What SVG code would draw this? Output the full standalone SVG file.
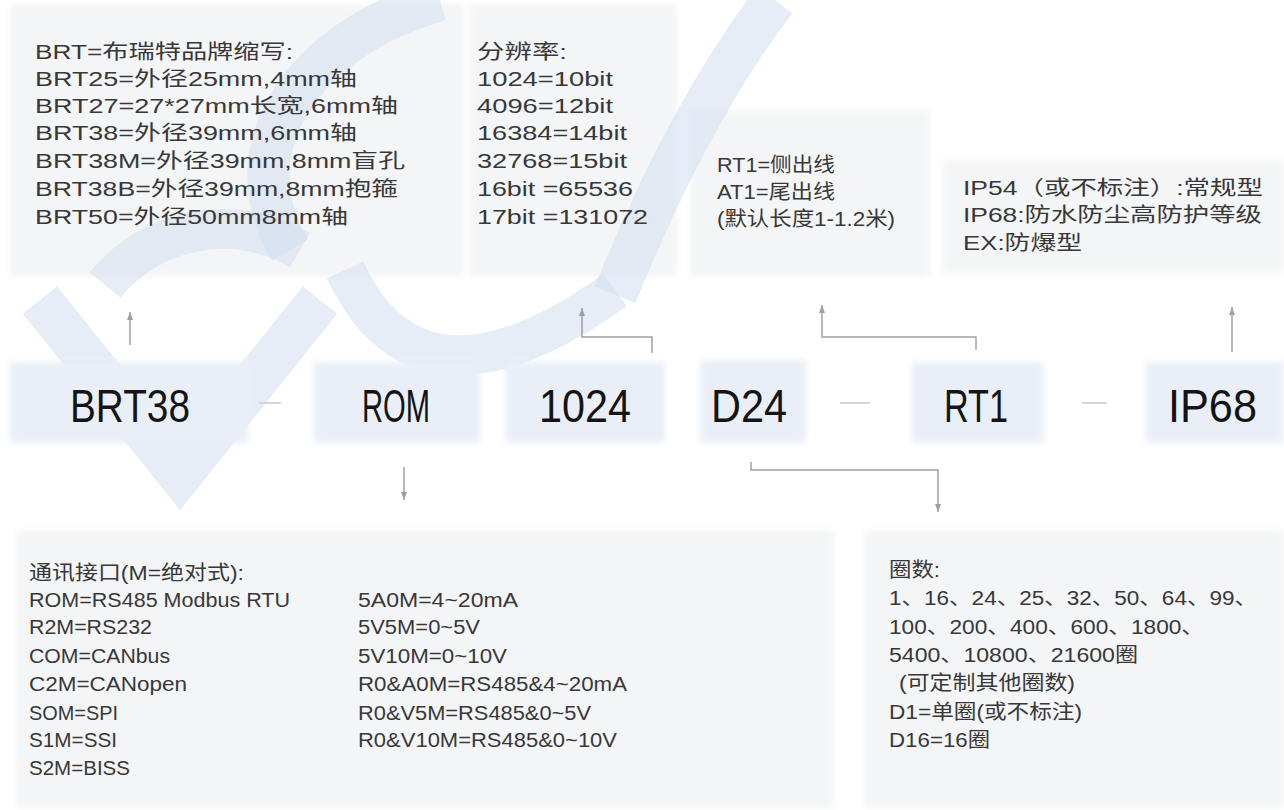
<svg xmlns="http://www.w3.org/2000/svg" width="1284" height="810" viewBox="0 0 1284 810">
<defs>
<style>
.panel{fill:#f4f5f6}
.node{fill:#eaeff7}
.t{font-family:"Liberation Sans","Noto Sans CJK SC",sans-serif;font-size:20px;fill:#383838}
.code{font-family:"Liberation Sans",sans-serif;font-size:46px;fill:#141414}
.wm{fill:none;stroke:#d3dff1;stroke-opacity:0.55;stroke-linecap:butt}
.conn{fill:none;stroke:#a0a0a0;stroke-width:1.5}
.dash{stroke:#d6d6d6;stroke-width:2}
</style>
<filter id="soft" x="-5%" y="-5%" width="110%" height="110%"><feGaussianBlur stdDeviation="3"/></filter>
<marker id="ah" viewBox="0 0 8 6" refX="8" refY="3" markerWidth="8" markerHeight="6" orient="auto" markerUnits="userSpaceOnUse">
<path d="M0 0 L8 3 L0 6 Z" fill="#a0a0a0"/>
</marker>
</defs>
<rect width="1284" height="810" fill="#ffffff"/>
<g id="panels" filter="url(#soft)">
<rect class="panel" x="10" y="4" width="453" height="273"/>
<rect class="panel" x="469" y="4" width="208" height="273"/>
<rect class="panel" x="690" y="110" width="240" height="167"/>
<rect class="panel" x="942" y="160" width="342" height="113"/>
<rect class="panel" x="16" y="530" width="818" height="278"/>
<rect class="panel" x="864" y="530" width="420" height="278"/>
</g>
<g id="watermark">
<path class="wm" stroke-width="44" d="M40 300 L180 475 L320 300"/>
<path class="wm" stroke-width="40" d="M105 285 C150 230 230 210 300 250"/>
<path class="wm" stroke-width="42" d="M290 250 C230 150 300 40 440 0"/>
<path class="wm" stroke-width="40" d="M345 270 Q420 430 615 290"/>
<path class="wm" stroke-width="44" d="M775 0 Q690 110 615 295"/>
</g>
<g id="node-boxes" filter="url(#soft)">
<rect class="node" x="10" y="362" width="238" height="81"/>
<rect class="node" x="314" y="362" width="166" height="81"/>
<rect class="node" x="505" y="362" width="160" height="81"/>
<rect class="node" x="700" y="360" width="106" height="83"/>
<rect class="node" x="912" y="362" width="132" height="81"/>
<rect class="node" x="1145" y="362" width="139" height="81"/>
</g>
<g id="node-brt38"><text class="code" x="70" y="422" textLength="120" lengthAdjust="spacingAndGlyphs">BRT38</text></g>
<g id="node-rom"><text class="code" x="362" y="422" textLength="68" lengthAdjust="spacingAndGlyphs">ROM</text></g>
<g id="node-1024"><text class="code" x="539" y="422" textLength="92" lengthAdjust="spacingAndGlyphs">1024</text></g>
<g id="node-d24"><text class="code" x="711" y="422" textLength="76" lengthAdjust="spacingAndGlyphs">D24</text></g>
<g id="node-rt1"><text class="code" x="944" y="422" textLength="64" lengthAdjust="spacingAndGlyphs">RT1</text></g>
<g id="node-ip68"><text class="code" x="1168" y="422" textLength="89" lengthAdjust="spacingAndGlyphs">IP68</text></g>
<g id="connectors">
<line class="dash" x1="259" y1="403" x2="281" y2="403"/>
<line class="dash" x1="840" y1="403" x2="870" y2="403"/>
<line class="dash" x1="1082" y1="403" x2="1107" y2="403"/>
<polyline class="conn" points="130,345 130,312" marker-end="url(#ah)"/>
<polyline class="conn" points="652,353 652,337 582,337 582,308" marker-end="url(#ah)"/>
<polyline class="conn" points="976,350 976,337 822,337 822,305" marker-end="url(#ah)"/>
<polyline class="conn" points="1232,352 1232,307" marker-end="url(#ah)"/>
<polyline class="conn" points="404,467 404,500" marker-end="url(#ah)"/>
<polyline class="conn" points="751,462 751,470 938,470 938,512" marker-end="url(#ah)"/>
</g>
<g id="note-brand">
<text class="t" x="35" y="59" textLength="258" lengthAdjust="spacingAndGlyphs">BRT=布瑞特品牌缩写:</text>
<text class="t" x="35" y="86" textLength="322" lengthAdjust="spacingAndGlyphs">BRT25=外径25mm,4mm轴</text>
<text class="t" x="35" y="113" textLength="363" lengthAdjust="spacingAndGlyphs">BRT27=27*27mm长宽,6mm轴</text>
<text class="t" x="35" y="140" textLength="322" lengthAdjust="spacingAndGlyphs">BRT38=外径39mm,6mm轴</text>
<text class="t" x="35" y="168" textLength="370" lengthAdjust="spacingAndGlyphs">BRT38M=外径39mm,8mm盲孔</text>
<text class="t" x="35" y="196" textLength="363" lengthAdjust="spacingAndGlyphs">BRT38B=外径39mm,8mm抱箍</text>
<text class="t" x="35" y="224" textLength="313" lengthAdjust="spacingAndGlyphs">BRT50=外径50mm8mm轴</text>
</g>
<g id="note-resolution">
<text class="t" x="477" y="59" textLength="90" lengthAdjust="spacingAndGlyphs">分辨率:</text>
<text class="t" x="477" y="86" textLength="136" lengthAdjust="spacingAndGlyphs">1024=10bit</text>
<text class="t" x="477" y="113" textLength="136" lengthAdjust="spacingAndGlyphs">4096=12bit</text>
<text class="t" x="477" y="140" textLength="150" lengthAdjust="spacingAndGlyphs">16384=14bit</text>
<text class="t" x="477" y="168" textLength="150" lengthAdjust="spacingAndGlyphs">32768=15bit</text>
<text class="t" x="477" y="196" textLength="156" lengthAdjust="spacingAndGlyphs">16bit =65536</text>
<text class="t" x="477" y="224" textLength="171" lengthAdjust="spacingAndGlyphs">17bit =131072</text>
</g>
<g id="note-cable">
<text class="t" x="717" y="172" textLength="118" lengthAdjust="spacingAndGlyphs">RT1=侧出线</text>
<text class="t" x="717" y="199" textLength="118" lengthAdjust="spacingAndGlyphs">AT1=尾出线</text>
<text class="t" x="717" y="226" textLength="178" lengthAdjust="spacingAndGlyphs">(默认长度1-1.2米)</text>
</g>
<g id="note-protection">
<text class="t" x="963" y="195" textLength="300" lengthAdjust="spacingAndGlyphs">IP54（或不标注）:常规型</text>
<text class="t" x="963" y="222" textLength="299" lengthAdjust="spacingAndGlyphs">IP68:防水防尘高防护等级</text>
<text class="t" x="963" y="250" textLength="119" lengthAdjust="spacingAndGlyphs">EX:防爆型</text>
</g>
<g id="note-interface">
<text class="t" x="29" y="580" textLength="215" lengthAdjust="spacingAndGlyphs">通讯接口(M=绝对式):</text>
<text class="t" x="29" y="607" textLength="261" lengthAdjust="spacingAndGlyphs">ROM=RS485 Modbus RTU</text>
<text class="t" x="29" y="634" textLength="123" lengthAdjust="spacingAndGlyphs">R2M=RS232</text>
<text class="t" x="29" y="663" textLength="141" lengthAdjust="spacingAndGlyphs">COM=CANbus</text>
<text class="t" x="29" y="691" textLength="158" lengthAdjust="spacingAndGlyphs">C2M=CANopen</text>
<text class="t" x="29" y="720" textLength="89" lengthAdjust="spacingAndGlyphs">SOM=SPI</text>
<text class="t" x="29" y="747" textLength="88" lengthAdjust="spacingAndGlyphs">S1M=SSI</text>
<text class="t" x="29" y="775" textLength="101" lengthAdjust="spacingAndGlyphs">S2M=BISS</text>
<text class="t" x="358" y="607" textLength="160" lengthAdjust="spacingAndGlyphs">5A0M=4~20mA</text>
<text class="t" x="358" y="634" textLength="122" lengthAdjust="spacingAndGlyphs">5V5M=0~5V</text>
<text class="t" x="358" y="663" textLength="149" lengthAdjust="spacingAndGlyphs">5V10M=0~10V</text>
<text class="t" x="358" y="691" textLength="269" lengthAdjust="spacingAndGlyphs">R0&amp;A0M=RS485&amp;4~20mA</text>
<text class="t" x="358" y="720" textLength="233" lengthAdjust="spacingAndGlyphs">R0&amp;V5M=RS485&amp;0~5V</text>
<text class="t" x="358" y="747" textLength="259" lengthAdjust="spacingAndGlyphs">R0&amp;V10M=RS485&amp;0~10V</text>
</g>
<g id="note-turns">
<text class="t" x="889" y="577" textLength="51" lengthAdjust="spacingAndGlyphs">圈数:</text>
<text class="t" x="889" y="605" textLength="368" lengthAdjust="spacingAndGlyphs">1、16、24、25、32、50、64、99、</text>
<text class="t" x="889" y="634" textLength="315" lengthAdjust="spacingAndGlyphs">100、200、400、600、1800、</text>
<text class="t" x="889" y="662" textLength="249" lengthAdjust="spacingAndGlyphs">5400、10800、21600圈</text>
<text class="t" x="899" y="690" textLength="176" lengthAdjust="spacingAndGlyphs">(可定制其他圈数)</text>
<text class="t" x="889" y="719" textLength="193" lengthAdjust="spacingAndGlyphs">D1=单圈(或不标注)</text>
<text class="t" x="889" y="747" textLength="101" lengthAdjust="spacingAndGlyphs">D16=16圈</text>
</g>
</svg>
